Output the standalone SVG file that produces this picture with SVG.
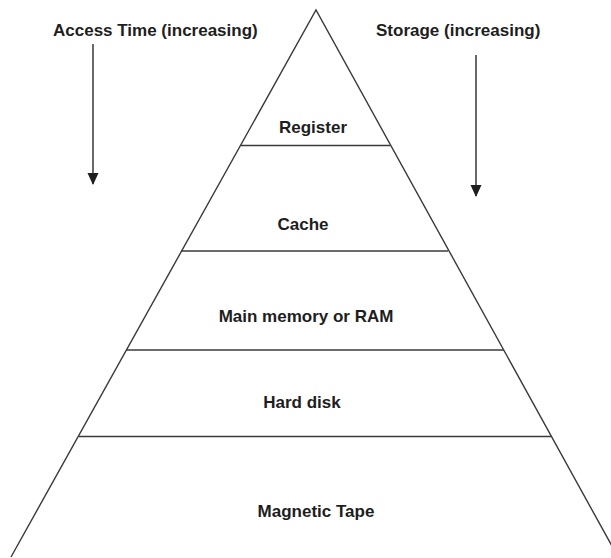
<svg xmlns="http://www.w3.org/2000/svg" width="611" height="558" viewBox="0 0 611 558">
<style>
.t{font-family:"Liberation Sans",Arial,sans-serif;font-weight:bold;font-size:17px;fill:#1e1e1e}
.c{text-anchor:middle}
.ln{stroke:#3a3a3a;stroke-width:1.4;fill:none}
.ar{stroke:#2a2a2a;stroke-width:1.4;fill:none}
</style>
<defs>
<marker id="ah" viewBox="0 0 12 12" refX="11" refY="6" markerWidth="12" markerHeight="12" markerUnits="userSpaceOnUse" orient="auto">
<path d="M0,0.5 L12,6 L0,11.5 Z" fill="#1e1e1e"/>
</marker>
</defs>
<rect width="611" height="558" fill="#ffffff"/>
<g id="pyramid">
<path class="ln" d="M11,557 L316,10 L618,557"/>
</g>
<g id="register">
<text class="t c" x="313" y="133">Register</text>
<line class="ln" x1="241" y1="145.5" x2="390" y2="145.5"/>
</g>
<g id="cache">
<text class="t c" x="303" y="230">Cache</text>
<line class="ln" x1="181" y1="251" x2="448" y2="251"/>
</g>
<g id="ram">
<text class="t c" x="306" y="322">Main memory or RAM</text>
<line class="ln" x1="126" y1="350" x2="504" y2="350"/>
</g>
<g id="harddisk">
<text class="t c" x="302" y="408">Hard disk</text>
<line class="ln" x1="79" y1="436.5" x2="551" y2="436.5"/>
</g>
<g id="tape">
<text class="t c" x="316" y="517">Magnetic Tape</text>
</g>
<g id="access-label">
<text class="t" x="53" y="36">Access Time (increasing)</text>
</g>
<g id="storage-label">
<text class="t" x="376" y="36" font-size="18">Storage (increasing)</text>
</g>
<g id="connectors">
<line class="ar" x1="93" y1="44" x2="93" y2="184" marker-end="url(#ah)"/>
<line class="ar" x1="476" y1="55" x2="476" y2="196" marker-end="url(#ah)"/>
</g>
</svg>
